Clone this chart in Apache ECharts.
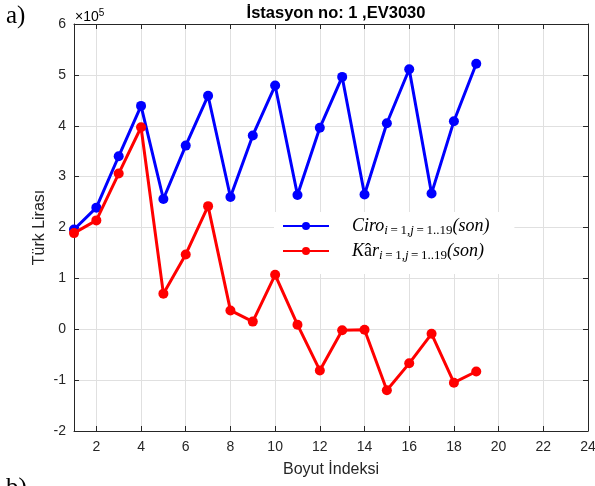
<!DOCTYPE html>
<html>
<head>
<meta charset="utf-8">
<script src="https://cdn.jsdelivr.net/npm/echarts@6/dist/echarts.min.js"></script>
<style>
html,body{margin:0;padding:0;background:#fff;}
#chart{width:595px;height:486px;}
</style>
</head>
<body>
<div id="chart"></div>
<script>
// Data (values in units of 10^5 Türk Lirası)
const boyutIndeksi = [1,2,3,4,5,6,7,8,9,10,11,12,13,14,15,16,17,18,19];
const ciro = [1.96,2.39,3.40,4.39,2.56,3.61,4.59,2.60,3.81,4.79,2.64,3.96,4.96,2.65,4.05,5.11,2.67,4.09,5.22];
const kar  = [1.89,2.14,3.06,3.97,0.70,1.47,2.42,0.37,0.15,1.07,0.09,-0.81,-0.02,-0.01,-1.20,-0.67,-0.09,-1.05,-0.83];
const xTicks = [2,4,6,8,10,12,14,16,18,20,22,24];
const yTicks = [-2,-1,0,1,2,3,4,5,6];
const seriesNames = ['Ciro','Kâr'];

const axisColor = '#262626';
const gridColor = '#e0e0e0';
const tickFont = 'Liberation Sans, Arial, sans-serif';

const chart = echarts.init(document.getElementById('chart'), null, {renderer:'canvas'});

function pairs(xs, ys){ return xs.map((x,i)=>[x, ys[i]]); }

const xBase = {
  type:'value', min:1, max:24,
  axisLine:{show:true, onZero:false, lineStyle:{color:axisColor, width:1}},
  axisTick:{show:true, inside:true, length:5, customValues:xTicks, lineStyle:{color:axisColor}},
  splitLine:{show:false}
};
const yBase = {
  type:'value', min:yTicks[0], max:yTicks[yTicks.length-1], interval:1,
  axisLine:{show:true, onZero:false, lineStyle:{color:axisColor, width:1}},
  axisTick:{show:true, inside:true, length:5, lineStyle:{color:axisColor}},
  splitLine:{show:false}
};

const subRich = {
  sp:{width:18},
  it:{fontFamily:'Liberation Serif, serif', fontStyle:'italic', fontSize:18, lineHeight:22, color:'#000', verticalAlign:'middle'},
  up:{fontFamily:'Liberation Serif, serif', fontSize:18, lineHeight:22, color:'#000', verticalAlign:'middle'},
  si:{fontFamily:'Liberation Serif, serif', fontStyle:'italic', fontSize:13, lineHeight:22, color:'#000', verticalAlign:'bottom'},
  su:{fontFamily:'Liberation Serif, serif', fontSize:13, lineHeight:22, color:'#000', verticalAlign:'bottom'}
};
const subscript = '{si|i}{su|\u2009=\u20091,}{si|j}{su|\u2009=\u20091..19}';

const option = {
  animation:false,
  backgroundColor:'#fff',
  title:{
    text:'İstasyon no: 1 ,EV3030',
    left:331, top:0, textAlign:'center',
    textStyle:{fontFamily:tickFont, fontSize:16.5, fontWeight:'bold', color:'#000'}
  },
  grid:{left:74, right:7, top:24, bottom:55, containLabel:false, outerBoundsMode:'none'},
  legend:{
    orient:'vertical', left:274, top:212,
    padding:[5,25,12,8], itemGap:5, itemWidth:46, itemHeight:10,
    backgroundColor:'#fff', borderWidth:0,
    data:seriesNames,
    formatter:function(name){
      if(name==='Ciro') return '{sp|}{it|Ciro}'+subscript+'{it|(son)}';
      return '{sp|}{it|K}{up|â}{it|r}'+subscript+'{it|(son)}';
    },
    textStyle:{rich:subRich},
    selectedMode:false
  },
  xAxis:[
    Object.assign({}, xBase, {
      position:'bottom',
      name:'Boyut İndeksi', nameLocation:'middle', nameGap:31,
      nameTextStyle:{fontFamily:tickFont, fontSize:16, color:axisColor},
      axisLabel:{show:true, customValues:xTicks, margin:9, fontFamily:tickFont, fontSize:14, color:axisColor},
      splitLine:{show:true, lineStyle:{color:gridColor, width:1}}
    }),
    Object.assign({}, xBase, {position:'top', axisLabel:{show:false}})
  ],
  yAxis:[
    Object.assign({}, yBase, {
      position:'left',
      name:'Türk Lirası', nameLocation:'middle', nameGap:26, nameMoveOverlap:false,
      nameTextStyle:{fontFamily:tickFont, fontSize:16, color:axisColor},
      axisLabel:{show:true, margin:8, fontFamily:tickFont, fontSize:14, color:axisColor},
      splitLine:{show:true, lineStyle:{color:gridColor, width:1}}
    }),
    Object.assign({}, yBase, {position:'right', axisLabel:{show:false}})
  ],
  graphic:[
    {type:'text', left:75, top:8, style:{text:'{a|×10}{b|5}', rich:{
      a:{fontFamily:tickFont, fontSize:14, color:axisColor, verticalAlign:'bottom', lineHeight:16},
      b:{fontFamily:tickFont, fontSize:10, color:axisColor, verticalAlign:'top', lineHeight:16}
    }}},
    {type:'text', left:6, top:4, style:{text:'a)', font:'25px "Liberation Serif", serif', fill:'#000'}},
    {type:'text', left:6, top:476, style:{text:'b)', font:'25px "Liberation Serif", serif', fill:'#000'}}
  ],
  series:[
    {
      name:seriesNames[0], type:'line', xAxisIndex:0, yAxisIndex:0,
      data:pairs(boyutIndeksi, ciro),
      symbol:'circle', symbolSize:10, showSymbol:true,
      lineStyle:{color:'#0000ff', width:3},
      itemStyle:{color:'#0000ff'},
      emphasis:{disabled:true}, z:3
    },
    {
      name:seriesNames[1], type:'line', xAxisIndex:0, yAxisIndex:0,
      data:pairs(boyutIndeksi, kar),
      symbol:'circle', symbolSize:10, showSymbol:true,
      lineStyle:{color:'#ff0000', width:3},
      itemStyle:{color:'#ff0000'},
      emphasis:{disabled:true}, z:4
    }
  ]
};
chart.setOption(option);
</script>
</body>
</html>
